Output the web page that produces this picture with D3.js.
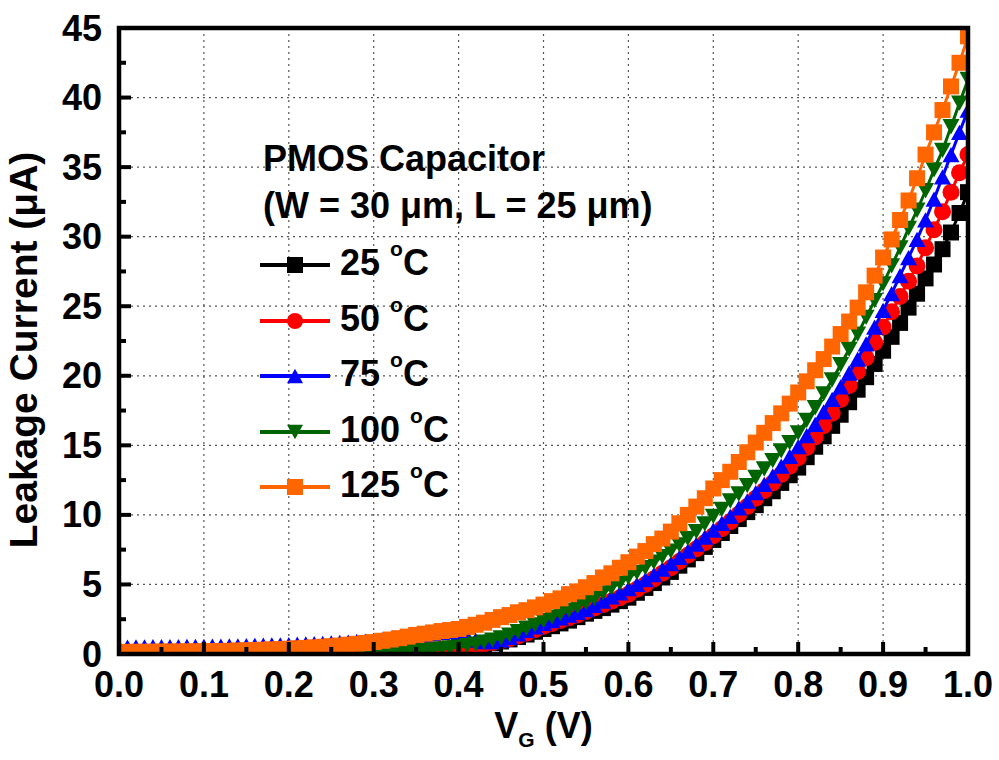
<!DOCTYPE html>
<html>
<head>
<meta charset="utf-8">
<script src="https://cdn.jsdelivr.net/npm/d3@7/dist/d3.min.js"></script>
<style>
body { margin: 0; background: #fff; }
text { font-family: "Liberation Sans", Arial, sans-serif; font-weight: bold; fill: #000; }
</style>
</head>
<body>
<div id="chart"></div>
<script>
// gate voltage (V)
var vg = [0.00,0.01,0.02,0.03,0.04,0.05,0.06,0.07,0.08,0.09,
          0.10,0.11,0.12,0.13,0.14,0.15,0.16,0.17,0.18,0.19,
          0.20,0.21,0.22,0.23,0.24,0.25,0.26,0.27,0.28,0.29,
          0.30,0.31,0.32,0.33,0.34,0.35,0.36,0.37,0.38,0.39,
          0.40,0.41,0.42,0.43,0.44,0.45,0.46,0.47,0.48,0.49,
          0.50,0.51,0.52,0.53,0.54,0.55,0.56,0.57,0.58,0.59,
          0.60,0.61,0.62,0.63,0.64,0.65,0.66,0.67,0.68,0.69,
          0.70,0.71,0.72,0.73,0.74,0.75,0.76,0.77,0.78,0.79,
          0.80,0.81,0.82,0.83,0.84,0.85,0.86,0.87,0.88,0.89,
          0.90,0.91,0.92,0.93,0.94,0.95,0.96,0.97,0.98,0.99,
          1.00];

// leakage current (uA) per temperature
var i25 = [0.02,0.02,0.02,0.02,0.02,0.02,0.02,0.02,0.02,0.02,
           0.02,0.02,0.02,0.02,0.02,0.02,0.02,0.02,0.02,0.02,
           0.03,0.03,0.03,0.03,0.03,0.03,0.03,0.03,0.04,0.04,
           0.05,0.07,0.09,0.12,0.15,0.18,0.22,0.26,0.30,0.35,
           0.40,0.48,0.57,0.67,0.78,0.90,1.05,1.22,1.40,1.60,
           1.80,2.00,2.20,2.40,2.65,2.90,3.10,3.30,3.55,3.80,
           4.05,4.40,4.75,5.10,5.50,5.90,6.35,6.80,7.25,7.70,
           8.20,8.70,9.20,9.70,10.20,10.70,11.20,11.70,12.30,12.85,
           13.40,14.15,14.90,15.65,16.40,17.20,18.10,19.00,19.90,20.85,
           21.80,22.80,23.80,24.90,25.90,27.00,28.00,29.10,30.30,31.70,
           33.20];

var i50 = [0.03,0.03,0.03,0.03,0.03,0.03,0.03,0.03,0.03,0.03,
           0.03,0.03,0.03,0.03,0.03,0.03,0.03,0.03,0.03,0.03,
           0.03,0.03,0.03,0.03,0.03,0.03,0.03,0.03,0.03,0.03,
           0.04,0.06,0.09,0.12,0.16,0.20,0.24,0.29,0.34,0.39,
           0.45,0.53,0.62,0.72,0.83,0.95,1.10,1.30,1.50,1.75,
           2.00,2.20,2.40,2.60,2.80,3.05,3.30,3.55,3.80,4.05,
           4.30,4.65,5.00,5.40,5.80,6.20,6.65,7.10,7.55,8.00,
           8.50,9.00,9.50,10.05,10.60,11.20,11.75,12.30,12.90,13.50,
           14.10,14.85,15.60,16.40,17.30,18.30,19.30,20.30,21.30,22.40,
           23.50,24.60,25.70,26.80,27.90,29.20,30.50,31.80,33.20,34.60,
           35.90];

var i75 = [0.50,0.50,0.51,0.51,0.52,0.52,0.53,0.53,0.54,0.54,
           0.55,0.56,0.57,0.58,0.59,0.60,0.62,0.63,0.65,0.66,
           0.68,0.70,0.72,0.74,0.77,0.80,0.83,0.86,0.90,0.93,
           0.97,1.03,1.09,1.16,1.24,1.33,1.40,1.48,1.55,1.62,
           1.50,1.25,1.00,0.90,0.90,1.00,1.20,1.45,1.70,1.95,
           2.20,2.40,2.60,2.80,3.00,3.20,3.50,3.80,4.10,4.40,
           4.70,5.00,5.35,5.70,6.10,6.50,6.95,7.40,7.90,8.40,
           8.90,9.40,9.90,10.50,11.00,11.60,12.20,12.80,13.50,14.20,
           14.90,15.70,16.50,17.40,18.30,19.20,20.20,21.20,22.30,23.50,
           24.70,25.90,27.20,28.50,29.80,31.20,32.70,34.30,35.90,37.50,
           39.10];

var i100 = [0.01,0.01,0.01,0.01,0.01,0.01,0.01,0.01,0.01,0.01,
            0.01,0.01,0.01,0.01,0.01,0.01,0.01,0.01,0.01,0.01,
            0.01,0.01,0.01,0.01,0.01,0.01,0.01,0.01,0.01,0.01,
            0.02,0.05,0.08,0.11,0.15,0.19,0.24,0.30,0.36,0.43,
            0.50,0.60,0.70,0.85,1.00,1.15,1.35,1.60,1.85,2.10,
            2.40,2.65,2.90,3.15,3.40,3.70,4.00,4.40,4.75,5.10,
            5.50,5.85,6.20,6.60,7.00,7.40,7.85,8.30,8.80,9.35,
            9.90,10.40,11.00,11.50,12.10,12.70,13.30,13.90,14.60,15.20,
            15.90,16.80,17.70,18.70,19.70,20.80,21.90,23.00,24.20,25.40,
            26.60,27.90,29.20,30.60,31.90,33.30,34.80,36.20,37.90,39.60,
            41.30];

var i125 = [0.15,0.15,0.16,0.16,0.17,0.17,0.18,0.18,0.19,0.19,
            0.20,0.21,0.22,0.23,0.25,0.27,0.29,0.31,0.33,0.35,
            0.38,0.41,0.44,0.48,0.52,0.56,0.61,0.67,0.73,0.79,
            0.86,0.95,1.04,1.14,1.25,1.37,1.46,1.55,1.65,1.72,
            1.80,1.95,2.10,2.25,2.45,2.65,2.80,3.00,3.15,3.35,
            3.55,3.80,4.00,4.30,4.50,4.80,5.10,5.50,5.80,6.20,
            6.60,7.00,7.40,7.90,8.30,8.80,9.40,10.00,10.60,11.20,
            11.90,12.50,13.10,13.80,14.50,15.20,15.90,16.60,17.30,18.00,
            18.80,19.60,20.40,21.20,22.10,23.00,23.90,24.90,26.00,27.20,
            28.50,29.80,31.20,32.60,34.20,35.90,37.50,39.10,40.80,42.50,
            44.40];

var temps = ["25", "50", "75", "100", "125"];
var colors = ["#000000", "#ff0000", "#0000ff", "#006400", "#ff6600"];
var shapes = ["square", "circle", "up", "down", "square"];
var currents = [i25, i50, i75, i100, i125];

var xTicks = [0.0, 0.1, 0.2, 0.3, 0.4, 0.5, 0.6, 0.7, 0.8, 0.9, 1.0];
var yTicks = [0, 5, 10, 15, 20, 25, 30, 35, 40, 45];

// set the dimensions and margins of the graph
var margin = {top: 28, right: 31, bottom: 106, left: 119},
    width = 999 - margin.left - margin.right,
    height = 760 - margin.top - margin.bottom;

var svg = d3.select("#chart").append("svg")
    .attr("width", 999)
    .attr("height", 760)
  .append("g")
    .attr("transform", "translate(" + margin.left + "," + margin.top + ")");

var x = d3.scaleLinear().domain([0, 1]).range([0, width]);
var y = d3.scaleLinear().domain([0, 45]).range([height, 0]);

// dotted grid
svg.append("g").selectAll("line")
    .data(xTicks.slice(1, -1))
    .enter().append("line")
    .attr("x1", function(d) { return x(d); })
    .attr("x2", function(d) { return x(d); })
    .attr("y1", 0).attr("y2", height)
    .attr("stroke", "#555").attr("stroke-width", 1.2)
    .attr("stroke-dasharray", "2,4");

svg.append("g").selectAll("line")
    .data(yTicks.slice(1, -1))
    .enter().append("line")
    .attr("y1", function(d) { return y(d); })
    .attr("y2", function(d) { return y(d); })
    .attr("x1", 0).attr("x2", width)
    .attr("stroke", "#555").attr("stroke-width", 1.2)
    .attr("stroke-dasharray", "2,4");

// marker shapes
function markerPath(shape, s) {
    var h = s / 2;
    if (shape === "square") return "M" + (-h) + "," + (-h) + "H" + h + "V" + h + "H" + (-h) + "Z";
    if (shape === "circle") return "M" + (-h) + ",0A" + h + "," + h + " 0 1,0 " + h + ",0A" + h + "," + h + " 0 1,0 " + (-h) + ",0Z";
    if (shape === "up") return "M0," + (-h * 0.9) + "L" + h + "," + (h * 0.9) + "L" + (-h) + "," + (h * 0.9) + "Z";
    return "M0," + (h * 0.9) + "L" + h + "," + (-h * 0.9) + "L" + (-h) + "," + (-h * 0.9) + "Z";
}

svg.append("clipPath").attr("id", "plotclip")
  .append("rect").attr("width", width).attr("height", height);

var plot = svg.append("g").attr("clip-path", "url(#plotclip)");

var line = d3.line()
    .x(function(d) { return x(d[0]); })
    .y(function(d) { return y(d[1]); });

currents.forEach(function(vals, k) {
    var pts = vg.map(function(v, i) { return [v, vals[i]]; });
    var g = plot.append("g");
    g.append("path")
        .datum(pts)
        .attr("d", line)
        .attr("fill", "none")
        .attr("stroke", colors[k])
        .attr("stroke-width", 3);
    g.selectAll(".mk")
        .data(pts)
        .enter().append("path")
        .attr("class", "mk")
        .attr("transform", function(d) { return "translate(" + x(d[0]) + "," + y(d[1]) + ")"; })
        .attr("d", markerPath(shapes[k], shapes[k] === "square" ? 16 : 17))
        .attr("fill", colors[k]);
});

// frame
svg.append("rect")
    .attr("width", width).attr("height", height)
    .attr("fill", "none").attr("stroke", "#000").attr("stroke-width", 4.5);

// ticks (inward, left + bottom only)
var xMinor = xTicks.slice(0, -1).map(function(d) { return d + 0.05; });
var yMinor = yTicks.slice(0, -1).map(function(d) { return d + 2.5; });

svg.append("g").selectAll("line")
    .data(xTicks.map(function(d) { return [d, 12]; }).concat(xMinor.map(function(d) { return [d, 7]; })))
    .enter().append("line")
    .attr("x1", function(d) { return x(d[0]); })
    .attr("x2", function(d) { return x(d[0]); })
    .attr("y1", height).attr("y2", function(d) { return height - d[1]; })
    .attr("stroke", "#000").attr("stroke-width", 4);

svg.append("g").selectAll("line")
    .data(yTicks.map(function(d) { return [d, 12]; }).concat(yMinor.map(function(d) { return [d, 7]; })))
    .enter().append("line")
    .attr("y1", function(d) { return y(d[0]); })
    .attr("y2", function(d) { return y(d[0]); })
    .attr("x1", 0).attr("x2", function(d) { return d[1]; })
    .attr("stroke", "#000").attr("stroke-width", 4);

// tick labels
svg.append("g").selectAll("text")
    .data(xTicks)
    .enter().append("text")
    .attr("x", function(d) { return x(d); })
    .attr("y", height + 43)
    .attr("text-anchor", "middle")
    .style("font-size", "36px")
    .text(d3.format(".1f"));

svg.append("g").selectAll("text")
    .data(yTicks)
    .enter().append("text")
    .attr("x", -17)
    .attr("y", function(d) { return y(d) + 12.5; })
    .attr("text-anchor", "end")
    .style("font-size", "36px")
    .text(function(d) { return d; });

// axis titles
var xt = svg.append("text")
    .attr("x", x(0.5))
    .attr("y", height + 84)
    .attr("text-anchor", "middle")
    .style("font-size", "36px");
xt.append("tspan").text("V");
xt.append("tspan").attr("dy", 9).style("font-size", "21px").text("G");
xt.append("tspan").attr("dy", -9).text(" (V)");

svg.append("text")
    .attr("transform", "translate(" + (-82) + "," + (height / 2 + 9) + ") rotate(-90)")
    .attr("text-anchor", "middle")
    .style("font-size", "39px")
    .text("Leakage Current (\u03bcA)");

// legend
var lg = svg.append("g").attr("transform", "translate(" + (-margin.left) + "," + (-margin.top) + ")");
lg.append("text").attr("x", 263).attr("y", 171).style("font-size", "36px").text("PMOS Capacitor");
lg.append("text").attr("x", 263).attr("y", 218).style("font-size", "36px").text("(W = 30 \u03bcm, L = 25 \u03bcm)");

var legendY = [265, 321, 376, 432, 487];
temps.forEach(function(t, k) {
    var row = lg.append("g").attr("transform", "translate(0," + legendY[k] + ")");
    row.append("line").attr("x1", 260).attr("x2", 330).attr("y1", 0).attr("y2", 0)
        .attr("stroke", colors[k]).attr("stroke-width", 4);
    row.append("path").attr("transform", "translate(295,0)")
        .attr("d", markerPath(shapes[k], 16)).attr("fill", colors[k]);
    var tx = row.append("text").attr("x", 340).attr("y", 10).style("font-size", "36px");
    tx.append("tspan").text(t + " ");
    tx.append("tspan").attr("dy", -19).style("font-size", "21px").text("o");
    tx.append("tspan").attr("dy", 19).text("C");
});
</script>
</body>
</html>
